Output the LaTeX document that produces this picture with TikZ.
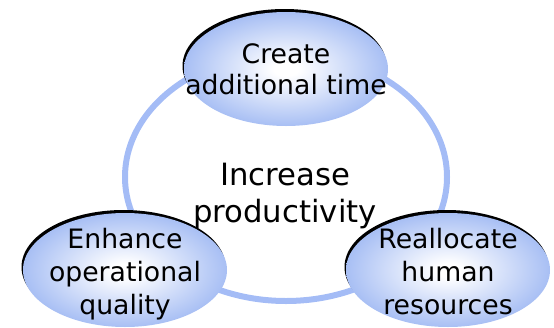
\documentclass[tikz,border=0pt]{standalone}
\usepackage{fontspec}
\setmainfont{DejaVu Sans}
\usetikzlibrary{shapes.geometric,shadows}
\definecolor{ringblue}{RGB}{164,188,246}
\definecolor{bubbleblue}{RGB}{168,191,244}
% white core fading to light blue at the rim
\pgfdeclareradialshading{bubbleshade}{\pgfpoint{0bp}{0bp}}{%
  color(0bp)=(white); color(3bp)=(white); color(25bp)=(bubbleblue); color(50bp)=(bubbleblue)}
\tikzset{
  bubble/.style={ellipse, minimum width=204pt, minimum height=114pt, inner sep=0pt,
    shading=bubbleshade,
    general shadow={fill=black, shadow xshift=-1.5pt, shadow yshift=3pt}},
  bubbletext/.style={anchor=base, align=center, inner sep=0pt,
    font=\fontsize{26.7}{33}\selectfont},
  hubtext/.style={anchor=base, align=center, inner sep=0pt,
    font=\fontsize{30.7}{37.5}\selectfont},
  ring/.style={draw=ringblue, line width=6pt}
}
\begin{document}
\begin{tikzpicture}[x=1pt, y=-1pt]
  \useasboundingbox (0,0) rectangle (554,327);
  % cycle ring behind the three bubbles
  \node[ellipse, minimum width=322pt, minimum height=248pt, inner sep=0pt, ring] (cycle) at (286,177) {};
  % central statement (anchored on the baseline of its last line)
  \node[hubtext] (hub) at (285,222.5) {Increase\\productivity};
  % the three bubbles on the ring
  \node[bubble] (top) at (286,69) {};
  \node[bubble] (left) at (125,270) {};
  \node[bubble] (right) at (448,270) {};
  \node[bubbletext, font=\fontsize{26.7}{31}\selectfont] (toptext) at (286,94) {Create\\additional time};
  \node[bubbletext] (lefttext) at (125,314) {Enhance\\operational\\quality};
  \node[bubbletext] (righttext) at (448,314) {Reallocate\\human\\resources};
\end{tikzpicture}
\end{document}
